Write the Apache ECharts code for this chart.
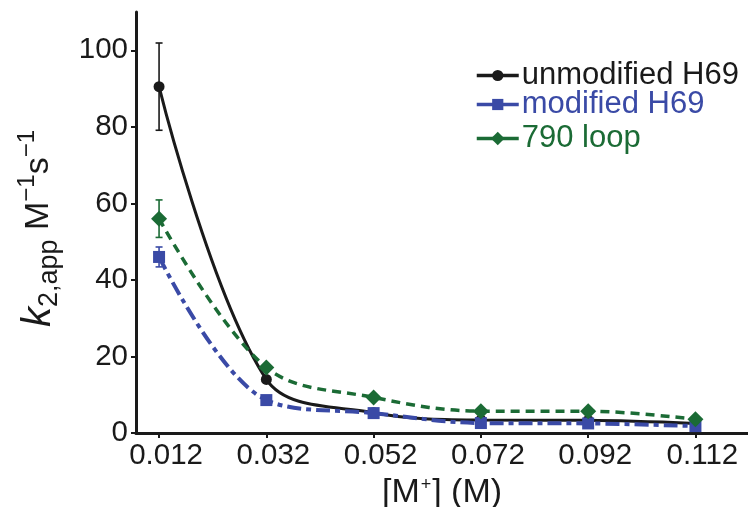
<!DOCTYPE html>
<html>
<head>
<meta charset="utf-8">
<script src="https://cdn.jsdelivr.net/npm/echarts@6/dist/echarts.min.js"></script>
<style>
  html, body { margin: 0; padding: 0; background: #fff; }
  #chart { width: 748px; height: 507px; }
</style>
</head>
<body>
<div id="chart"></div>
<script>
// Salt concentration (M) and apparent second-order rate constants
const xValues = [0.012, 0.032, 0.052, 0.072, 0.092, 0.112];
const yTicks = [0, 20, 40, 60, 80, 100];

const unmodified = [90.5, 14.0, 5.3, 3.4, 3.3, 2.5];
const unmodifiedErr = [11.4, 0, 0, 0, 0, 0];

const modified = [46.0, 8.6, 5.2, 2.6, 2.5, 1.8];
const modifiedErr = [2.6, 0, 0, 0, 0, 0];

const loop790 = [56.0, 17.1, 9.3, 5.7, 5.7, 3.6];
const loop790Err = [4.9, 0, 0, 0, 0, 0];

const names = ['unmodified H69', 'modified H69', '790 loop'];
const colors = ['#1a1a1a', '#3a4aa6', '#1b6b35'];

const FONT = '"Liberation Sans", Arial, Helvetica, sans-serif';
const INK = '#1a1a1a';

function pairs(vals) {
  return xValues.map((x, i) => [x, vals[i]]);
}

function errorSeries(vals, errs, color) {
  return {
    type: 'custom',
    z: 1,
    silent: true,
    data: xValues.map((x, i) => [x, vals[i], errs[i]]),
    renderItem: function (params, api) {
      const x = api.value(0), y = api.value(1), e = api.value(2);
      if (!e) return null;
      const top = api.coord([x, y + e]);
      const bot = api.coord([x, y - e]);
      const half = 3.5;
      const style = { stroke: color, lineWidth: 1.6 };
      return {
        type: 'group',
        children: [
          { type: 'line', shape: { x1: top[0], y1: top[1], x2: bot[0], y2: bot[1] }, style },
          { type: 'line', shape: { x1: top[0] - half, y1: top[1], x2: top[0] + half, y2: top[1] }, style },
          { type: 'line', shape: { x1: bot[0] - half, y1: bot[1], x2: bot[0] + half, y2: bot[1] }, style }
        ]
      };
    }
  };
}

function lineSeries(idx, vals, symbol, size, dash, width) {
  return {
    name: names[idx],
    type: 'line',
    z: 3 + idx,
    data: pairs(vals),
    smooth: 0.35,
    symbol: symbol,
    symbolSize: size,
    showAllSymbol: true,
    itemStyle: { color: colors[idx] },
    lineStyle: { color: colors[idx], width: width, type: dash },
    emphasis: { disabled: true }
  };
}

function legendRow(idx, top, iconH) {
  return {
    data: [{ name: names[idx], textStyle: { color: colors[idx] } }],
    left: 475,
    top: top,
    padding: 0,
    itemWidth: 42,
    itemHeight: iconH,
    itemGap: 4,
    selectedMode: false,
    lineStyle: { type: 'solid', width: 3.5 },
    textStyle: { fontSize: 31, fontFamily: FONT, padding: [0, 0, 0, -2] }
  };
}

const chart = echarts.init(document.getElementById('chart'), null, { renderer: 'canvas' });

chart.setOption({
  animation: false,
  backgroundColor: '#fff',
  grid: { left: 136, right: 0, top: 12, bottom: 74, containLabel: false, outerBoundsMode: 'none' },
  legend: [legendRow(0, 60, 14), legendRow(1, 89, 14), legendRow(2, 123, 17)],
  xAxis: {
    type: 'value',
    min: 0.0077,
    max: 0.1218,
    name: '[M{sup|+}] (M)',
    nameLocation: 'middle',
    nameGap: 33,
    nameTextStyle: {
      fontSize: 34, fontFamily: FONT, color: INK,
      rich: {
        sup: { fontSize: 18, verticalAlign: 'top', lineHeight: 34, padding: [0, 1, 14, 1], color: INK }
      }
    },
    splitLine: { show: false },
    axisLine: { onZero: false, lineStyle: { color: INK, width: 3 } },
    axisTick: { customValues: xValues, length: 5, lineStyle: { color: INK, width: 2 } },
    axisLabel: {
      customValues: xValues,
      formatter: v => v.toFixed(3),
      fontSize: 29.5, fontFamily: FONT, color: INK, margin: 8,
      padding: [0, 0, 0, 14]
    }
  },
  yAxis: {
    type: 'value',
    min: 0,
    max: 110,
    name: '{k|k}{sub|2,app}{n| M}{sup|\u22121}{n|s}{sup|\u22121}',
    nameLocation: 'middle',
    nameGap: 73,
    nameTextStyle: {
      fontFamily: FONT, color: INK,
      padding: [0, 12, 0, 0],
      rich: {
        k: { fontSize: 40, fontStyle: 'italic', lineHeight: 48, verticalAlign: 'middle', fontFamily: FONT, color: INK },
        sub: { fontSize: 27, lineHeight: 27, verticalAlign: 'bottom', fontFamily: FONT, color: INK },
        n: { fontSize: 34, lineHeight: 34, verticalAlign: 'middle', fontFamily: FONT, color: INK },
        sup: { fontSize: 24, lineHeight: 24, verticalAlign: 'top', fontFamily: FONT, color: INK }
      }
    },
    splitLine: { show: false },
    axisLine: { show: true, onZero: false, lineStyle: { color: INK, width: 3 } },
    axisTick: { show: true, customValues: yTicks, length: 5, lineStyle: { color: INK, width: 2 } },
    axisLabel: {
      customValues: yTicks,
      fontSize: 29.5, fontFamily: FONT, color: INK, margin: 8
    }
  },
  series: [
    errorSeries(unmodified, unmodifiedErr, colors[0]),
    errorSeries(modified, modifiedErr, colors[1]),
    errorSeries(loop790, loop790Err, colors[2]),
    lineSeries(0, unmodified, 'circle', 11, 'solid', 3),
    lineSeries(1, modified, 'rect', 12, [14, 5, 5, 5], 4),
    lineSeries(2, loop790, 'diamond', 16, [9, 6], 3.5)
  ]
});
</script>
</body>
</html>
